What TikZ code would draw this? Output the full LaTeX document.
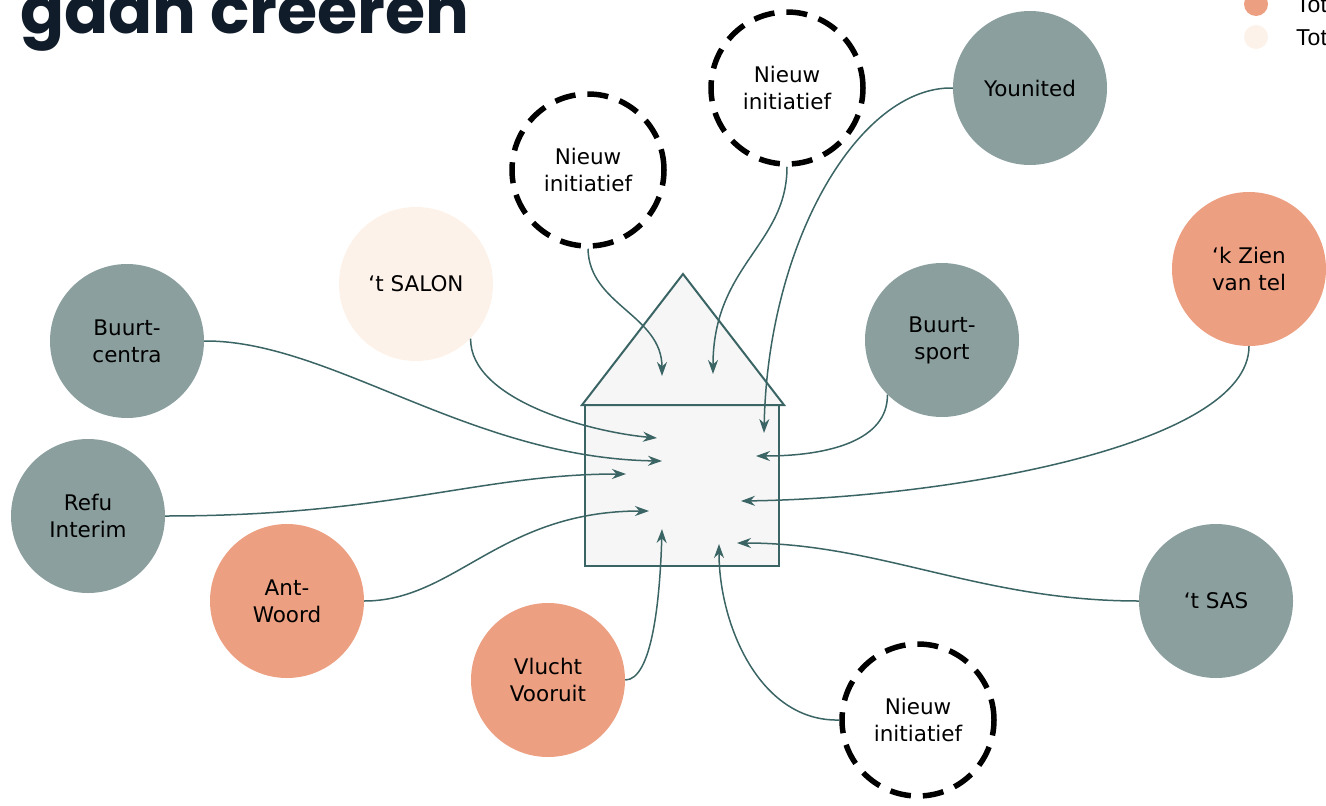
\documentclass[tikz,border=0pt]{standalone}
\usepackage{fontspec}
\setmainfont{DejaVu Sans}
\newfontfamily\titlefont{Poppins}
\newfontfamily\legendfont{Liberation Sans}
\usetikzlibrary{arrows.meta}
\definecolor{bgray}{HTML}{8A9F9E}
\definecolor{borange}{HTML}{EC9F81}
\definecolor{bcream}{HTML}{FDF2E9}
\definecolor{lteal}{HTML}{3B6464}
\definecolor{navy}{HTML}{111C2A}
\definecolor{housefill}{HTML}{F6F6F6}
\begin{document}
\begin{tikzpicture}[x=1pt,y=-1pt,
  bubble/.style={circle, minimum size=154pt, inner sep=0pt, align=center,
    font=\fontsize{21.5}{27}\selectfont, text=black},
  grayb/.style={bubble, fill=bgray},
  orangeb/.style={bubble, fill=borange},
  creamb/.style={bubble, fill=bcream},
  newb/.style={bubble, minimum size=152pt, draw=black, line width=5.5pt, dash pattern=on 21pt off 12pt},
  link/.style={draw=lteal, line width=1.5pt, -{Stealth[length=14pt,width=10pt]}},
  housestyle/.style={draw=lteal, line width=2pt, fill=housefill},
  legdot/.style={circle, minimum size=24pt, inner sep=0pt}
]
\useasboundingbox (0,0) rectangle (1326,806);

% title (cut off)
\node[anchor=base west, inner sep=0pt, text=navy, font=\titlefont\bfseries\fontsize{65}{65}\selectfont] (title) at (20,33) {gaan creeren};

% legend (cut off)
\node[legdot, fill=borange] (lg1) at (1256,4) {};
\node[legdot, fill=bcream] (lg2) at (1256,37) {};
\node[anchor=base west, inner sep=0pt, font=\legendfont\fontsize{23}{23}\selectfont] (lt1) at (1296,12) {Tot};
\node[anchor=base west, inner sep=0pt, font=\legendfont\fontsize{23}{23}\selectfont] (lt2) at (1296,45) {Tot};

% house
\draw[housestyle] (585,405) rectangle (779,566);
\draw[housestyle, line join=miter] (582,405) -- (683,274) -- (784,405) -- cycle;

% bubbles
\node[grayb] (younited) at (1030,88) {Younited};
\node[newb] (ni1) at (787,88) {Nieuw\\initiatief};
\node[newb] (ni2) at (588,170) {Nieuw\\initiatief};
\node[creamb] (salon) at (416,284) {‘t SALON};
\node[orangeb] (zien) at (1249,269) {‘k Zien\\van tel};
\node[grayb] (bsport) at (942,340) {Buurt-\\sport};
\node[grayb] (bcentra) at (127,341) {Buurt-\\centra};
\node[grayb] (refu) at (88,516) {Refu\\Interim};
\node[orangeb] (ant) at (287,601) {Ant-\\Woord};
\node[orangeb] (vlucht) at (548,680) {Vlucht\\Vooruit};
\node[grayb] (sas) at (1216,601) {‘t SAS};
\node[newb] (ni3) at (918,720) {Nieuw\\initiatief};

% arrow tips
\coordinate (t1) at (662,376);
\coordinate (t2) at (713,374);
\coordinate (t3) at (764,433);
\coordinate (t4) at (657,438);
\coordinate (t5) at (662,461);
\coordinate (t6) at (626,474);
\coordinate (t7) at (649,511);
\coordinate (t8) at (662,529);
\coordinate (t9) at (719,544);
\coordinate (t10) at (737,543);
\coordinate (t11) at (741,501);
\coordinate (t12) at (756,456);

% connectors
\draw[link] (ni2.south) .. controls (589,305) and (662,315) .. (t1);
\draw[link] (ni1.south) .. controls (787,245) and (713,265) .. (t2);
\draw[link] (younited.west) .. controls (860,86) and (768,240) .. (t3);
\draw[link] (salon.-45) .. controls (470,400) and (590,432) .. (t4);
\draw[link] (bcentra.east) .. controls (330,340) and (470,458) .. (t5);
\draw[link] (refu.east) .. controls (390,516) and (480,474) .. (t6);
\draw[link] (ant.east) .. controls (455,601) and (500,511) .. (t7);
\draw[link] (vlucht.east) .. controls (652,680) and (660,600) .. (t8);
\draw[link] (ni3.west) .. controls (760,722) and (719,625) .. (t9);
\draw[link] (sas.west) .. controls (980,601) and (880,543) .. (t10);
\draw[link] (zien.south) .. controls (1249,445) and (950,498) .. (t11);
\draw[link] (bsport.-135) .. controls (888,440) and (830,456) .. (t12);
\end{tikzpicture}
\end{document}
